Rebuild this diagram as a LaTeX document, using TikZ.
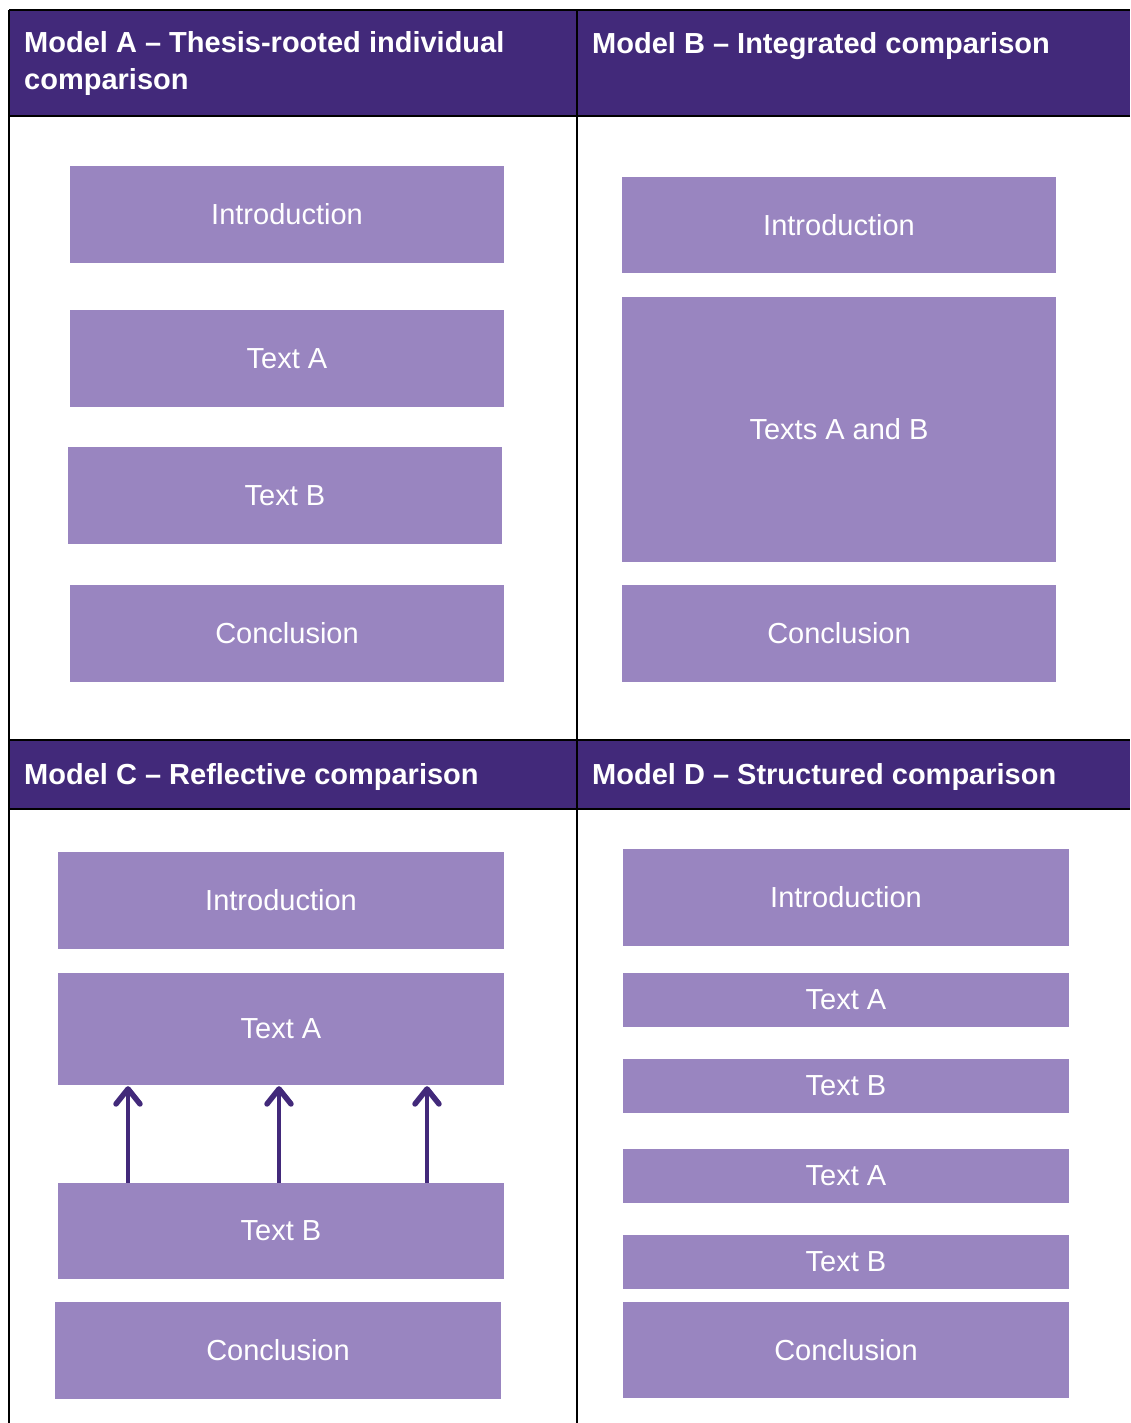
\documentclass[tikz,border=0pt]{standalone}
\usepackage{fontspec}
\setmainfont{Liberation Sans}
\usetikzlibrary{arrows.meta}
\definecolor{hdr}{HTML}{42297A}
\definecolor{boxc}{HTML}{9985C0}
\tikzset{
  box/.style={fill=boxc, text=white, inner sep=0pt, font=\fontsize{29}{34}\selectfont},
  hdrtext/.style={text=white, anchor=base west, inner sep=0pt, align=left, font=\fontsize{29}{37}\selectfont\bfseries},
  rule/.style={line width=2.5pt, black},
  uparr/.style={line width=4.5pt, hdr, -{Straight Barb[length=15pt,width=24pt,line width=5.5pt,round]}, shorten >=1pt}
}
\newcommand{\bx}[6]{\node[box, minimum width=#4pt, minimum height=#5pt] (#1) at (#2,#3) {#6};}
\begin{document}
\begin{tikzpicture}[x=1pt,y=-1pt]
\useasboundingbox (0,0) rectangle (1130,1423);
% header fills
\fill[hdr] (9,10) rectangle (1130,116);
\fill[hdr] (9,740) rectangle (1130,809);
% rules
\draw[rule] (9,10) -- (1130,10);
\draw[rule] (9,116) -- (1130,116);
\draw[rule] (9,740) -- (1130,740);
\draw[rule] (9,809) -- (1130,809);
\draw[rule] (9,10) -- (9,1423);
\draw[rule] (577,10) -- (577,1423);
% header texts
\node[hdrtext] (hA) at (24,90) {Model A – Thesis-rooted individual\\comparison};
\node[hdrtext] (hB) at (592,54) {Model B – Integrated comparison};
\node[hdrtext] (hC) at (24,784) {Model C – Reflective comparison};
\node[hdrtext] (hD) at (592,784) {Model D – Structured comparison};
% Model A
\bx{aI}{287}{214.5}{434}{97}{Introduction}
\bx{aA}{287}{358.5}{434}{97}{Text A}
\bx{aB}{285}{495.5}{434}{97}{Text B}
\bx{aC}{287}{633.5}{434}{97}{Conclusion}
% Model B
\bx{bI}{839}{225}{434}{96}{Introduction}
\bx{bAB}{839}{429.5}{434}{265}{Texts A and B}
\bx{bC}{839}{633.5}{434}{97}{Conclusion}
% Model C
\bx{cI}{281}{900.5}{446}{97}{Introduction}
\bx{cA}{281}{1029}{446}{112}{Text A}
\bx{cB}{281}{1231}{446}{96}{Text B}
\bx{cC}{278}{1350.5}{446}{97}{Conclusion}
\draw[uparr] ([xshift=-153pt]cB.north) -- ([xshift=-153pt]cA.south);
\draw[uparr] ([xshift=-2pt]cB.north) -- ([xshift=-2pt]cA.south);
\draw[uparr] ([xshift=146pt]cB.north) -- ([xshift=146pt]cA.south);
% Model D
\bx{dI}{846}{897.5}{446}{97}{Introduction}
\bx{dA1}{846}{1000}{446}{54}{Text A}
\bx{dB1}{846}{1086}{446}{54}{Text B}
\bx{dA2}{846}{1176}{446}{54}{Text A}
\bx{dB2}{846}{1262}{446}{54}{Text B}
\bx{dC}{846}{1350}{446}{96}{Conclusion}
\end{tikzpicture}
\end{document}
